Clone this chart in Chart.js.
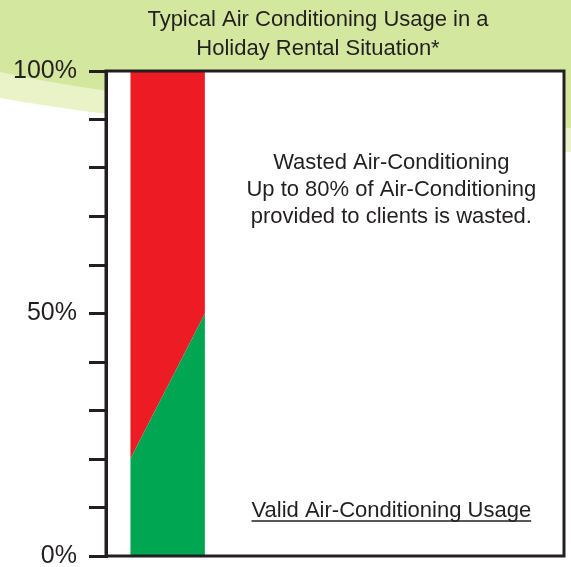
<!DOCTYPE html>
<html>
<head>
<meta charset="utf-8">
<script src="https://cdn.jsdelivr.net/npm/chart.js@4.4.1/dist/chart.umd.min.js"></script>
<style>
  html, body { margin: 0; padding: 0; background: #fff; }
  #wrap { width: 571px; height: 567px; }
</style>
</head>
<body>
<div id="wrap"><canvas id="chart"></canvas></div>
<script>
const titleLines = ['Typical Air Conditioning Usage in a', 'Holiday Rental Situation*'];
const yTickLabels = { 0: '0%', 50: '50%', 100: '100%' };
const columnX = [5.3, 21.6];        // left / right edge of the column
const validUsage = [20, 50];        // green part, % at left and right edge
const totalUsage = [100, 100];      // top of the red part
const wastedNote = ['Wasted Air-Conditioning', 'Up to 80% of Air-Conditioning', 'provided to clients is wasted.'];
const validNote = 'Valid Air-Conditioning Usage';
const noteX = 62.3;
const wastedNoteY = 81;
const validNoteY = 9.3;

const INK = '#231f20';
const FONT = "'Liberation Sans', Arial, sans-serif";

/* green swoosh behind everything + white plot box */
const backdrop = {
  id: 'backdrop',
  beforeDraw(chart) {
    const { ctx, width, height, chartArea: a } = chart;
    ctx.save();
    ctx.fillStyle = '#fff';
    ctx.fillRect(0, 0, width, height);
    ctx.fillStyle = '#eaf3c8';
    ctx.beginPath();
    ctx.moveTo(0, 0); ctx.lineTo(width, 0); ctx.lineTo(width, 152);
    ctx.quadraticCurveTo(190, 132, 0, 98);
    ctx.closePath(); ctx.fill();
    ctx.fillStyle = '#d4e79e';
    ctx.beginPath();
    ctx.moveTo(0, 0); ctx.lineTo(width, 0); ctx.lineTo(width, 128);
    ctx.quadraticCurveTo(183, 112, 0, 72);
    ctx.closePath(); ctx.fill();
    ctx.fillStyle = '#fff';
    ctx.fillRect(a.left, a.top, a.right - a.left, a.bottom - a.top);
    ctx.restore();
  }
};

/* box, title and notes */
const overlay = {
  id: 'overlay',
  afterDatasetsDraw(chart) {
    const { ctx, chartArea: a } = chart;
    ctx.save();
    ctx.strokeStyle = INK;
    ctx.lineWidth = 3;
    ctx.strokeRect(a.left, a.top, a.right - a.left, a.bottom - a.top);
    ctx.restore();
  },
  afterDraw(chart) {
    const { ctx, scales: { x, y } } = chart;
    ctx.save();
    ctx.fillStyle = INK;
    ctx.textAlign = 'center';
    ctx.textBaseline = 'middle';
    ctx.font = '22px ' + FONT;
    titleLines.forEach((t, i) => ctx.fillText(t, 318, 20 + i * 29));

    const cx = x.getPixelForValue(noteX);
    const wy = y.getPixelForValue(wastedNoteY);
    wastedNote.forEach((t, i) => ctx.fillText(t, cx, wy + i * 27));

    const vy = y.getPixelForValue(validNoteY);
    ctx.fillText(validNote, cx, vy);
    const w = ctx.measureText(validNote).width;
    ctx.strokeStyle = INK;
    ctx.lineWidth = 1.5;
    ctx.beginPath();
    ctx.moveTo(cx - w / 2, vy + 10);
    ctx.lineTo(cx + w / 2, vy + 10);
    ctx.stroke();
    ctx.restore();
  }
};

new Chart(document.getElementById('chart'), {
  type: 'line',
  data: {
    datasets: [
      { label: 'Valid', data: columnX.map((v, i) => ({ x: v, y: validUsage[i] })),
        fill: 'origin', backgroundColor: '#00a651', borderWidth: 0, pointRadius: 0 },
      { label: 'Wasted', data: columnX.map((v, i) => ({ x: v, y: totalUsage[i] })),
        fill: '-1', backgroundColor: '#ed1c24', borderWidth: 0, pointRadius: 0 }
    ]
  },
  options: {
    responsive: true,
    maintainAspectRatio: false,
    animation: false,
    layout: { padding: { top: 71, right: 7, bottom: 11, left: 0 } },
    plugins: { legend: { display: false }, title: { display: false }, tooltip: { enabled: false } },
    scales: {
      x: { type: 'linear', min: 0, max: 100, display: false },
      y: {
        min: 0, max: 100,
        grid: { drawOnChartArea: false, drawTicks: true, tickLength: 17, lineWidth: 3, color: INK },
        border: { display: true, width: 3, color: INK },
        ticks: { stepSize: 10, autoSkip: false, padding: 12, color: INK,
                 font: { size: 25, family: FONT },
                 callback: v => yTickLabels[v] ?? '' },
        afterFit: s => { s.width = 106; s.paddingTop = 0; s.paddingBottom = 0; }
      }
    }
  },
  plugins: [backdrop, overlay]
});
</script>
</body>
</html>
